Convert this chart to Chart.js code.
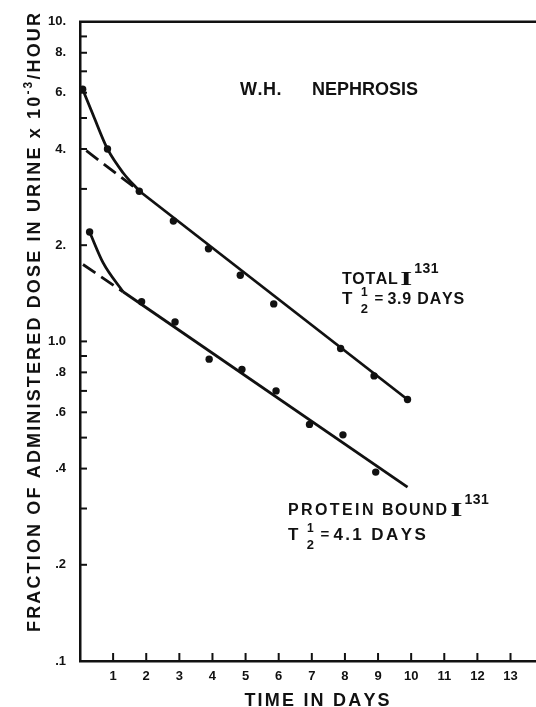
<!DOCTYPE html>
<html>
<head>
<meta charset="utf-8">
<script src="https://cdn.jsdelivr.net/npm/chart.js@4.4.1/dist/chart.umd.min.js"></script>
<style>
  html, body { margin: 0; padding: 0; background: #fff; overflow: hidden; }
  #wrap { position: relative; width: 536px; height: 707px; overflow: hidden; }
</style>
</head>
<body>
<div id="wrap"><canvas id="chart" width="541" height="707"></canvas></div>
<script>
// measured points, days after dose
const totalDays = [0.08, 0.83, 1.79, 2.82, 3.88, 4.84, 5.85, 7.87, 8.88, 9.89];
const totalValues = [6.15, 4.0, 2.95, 2.38, 1.95, 1.61, 1.31, 0.95, 0.78, 0.658];
const proteinDays = [0.29, 1.86, 2.87, 3.9, 4.89, 5.92, 6.93, 7.94, 8.93];
const proteinValues = [2.2, 1.33, 1.15, 0.88, 0.817, 0.70, 0.55, 0.51, 0.39];

// hand drawn early curves
const totalCurveDays = [0.08, 0.4, 0.83, 1.3, 1.8];
const totalCurveValues = [6.15, 5.1, 4.0, 3.37, 2.95];
const proteinCurveDays = [0.29, 0.7, 1.3];
const proteinCurveValues = [2.2, 1.76, 1.43];

// straight fits, first segment is the dashed back-extrapolation
const totalFitDays = [0.19, 1.8, 9.89];
const totalFitValues = [3.95, 2.95, 0.658];
const proteinFitDays = [0.09, 1.3, 9.89];
const proteinFitValues = [1.74, 1.43, 0.35];

const xTicks = [1, 2, 3, 4, 5, 6, 7, 8, 9, 10, 11, 12, 13];
const xTickLabels = ['1', '2', '3', '4', '5', '6', '7', '8', '9', '10', '11', '12', '13'];
const yTicks = [0.1, 0.2, 0.3, 0.4, 0.5, 0.6, 0.7, 0.8, 0.9, 1, 2, 3, 4, 5, 6, 7, 8, 9, 10];
const yTickLabels = ['.1', '.2', '', '.4', '', '.6', '', '.8', '', '1.0', '2.', '', '4.', '', '6.', '', '8.', '', '10.'];

const ink = '#111';
const sans = '"Liberation Sans", Arial, sans-serif';
const serif = '"Liberation Serif", serif';

const pts = (xs, ys) => xs.map((d, i) => ({ x: d, y: ys[i] }));

function spaced(ctx, text, x, y, spacing) {
  for (const ch of text) {
    ctx.fillText(ch, x, y);
    x += ctx.measureText(ch).width + spacing;
  }
  return x;
}

function naturalWidth(ctx, text) {
  let w = 0;
  for (const ch of text) w += ctx.measureText(ch).width;
  return w;
}

// T 1/2 = n DAYS
function halfLife(ctx, x, y, rest, size, spacing) {
  ctx.font = `bold 17px ${sans}`;
  ctx.fillText('T', x, y);
  const fx = x + ctx.measureText('T').width + 12;
  ctx.textAlign = 'center';
  ctx.font = `bold 12px ${sans}`;
  ctx.fillText('1', fx, y - 8);
  ctx.font = `bold 13px ${sans}`;
  ctx.fillText('2', fx, y + 9);
  ctx.textAlign = 'left';
  ctx.font = `bold 15px ${sans}`;
  ctx.fillText('=', fx + 10, y - 1);
  ctx.font = `bold ${size}px ${sans}`;
  spaced(ctx, rest, fx + 23, y, spacing);
}

// roman I with wide serifs, then superscript 131
function isotope(ctx, x, y) {
  ctx.save();
  ctx.translate(x, y + 1);
  ctx.scale(1.7, 1);
  ctx.font = `bold 18px ${serif}`;
  ctx.fillText('I', 0, 0);
  const w = ctx.measureText('I').width * 1.7;
  ctx.restore();
  ctx.font = `bold 14px ${sans}`;
  spaced(ctx, '131', x + w + 2, y - 11, 0.5);
}

const decorations = {
  id: 'decorations',
  afterDraw(chart) {
    const { ctx, chartArea: a, scales: { x, y } } = chart;
    ctx.save();
    ctx.strokeStyle = ink;
    ctx.fillStyle = ink;

    // top frame line
    ctx.lineWidth = 2.5;
    ctx.beginPath();
    ctx.moveTo(a.left - 1, a.top);
    ctx.lineTo(a.right, a.top);
    ctx.stroke();

    // tick marks point inwards
    ctx.lineWidth = 2;
    yTicks.forEach(v => {
      if (v === 10 || v === 0.1) return;
      const py = y.getPixelForValue(v);
      ctx.beginPath();
      ctx.moveTo(a.left, py);
      ctx.lineTo(a.left + 7, py);
      ctx.stroke();
    });
    xTicks.forEach(v => {
      const px = x.getPixelForValue(v);
      ctx.beginPath();
      ctx.moveTo(px, a.bottom);
      ctx.lineTo(px, a.bottom - 8);
      ctx.stroke();
    });

    ctx.textBaseline = 'alphabetic';
    ctx.textAlign = 'left';

    // title
    ctx.font = `bold 18px ${sans}`;
    spaced(ctx, 'W.H.', 240, 95, 0.5);
    spaced(ctx, 'NEPHROSIS', 312, 95, 0);

    // total I131
    ctx.font = `bold 16px ${sans}`;
    let nx = spaced(ctx, 'TOTAL', 342, 284, 0.6);
    isotope(ctx, nx + 2, 284);
    halfLife(ctx, 342, 304, '3.9 DAYS', 16, 0.8);

    // protein bound I131
    ctx.font = `bold 16px ${sans}`;
    nx = spaced(ctx, 'PROTEIN', 288, 515, 2.4);
    nx = spaced(ctx, 'BOUND', nx + 6, 515, 1.6);
    isotope(ctx, nx + 2, 515);
    halfLife(ctx, 288, 540, '4.1 DAYS', 17, 2.4);

    // x axis title
    ctx.font = `bold 18px ${sans}`;
    const xt = 'TIME IN DAYS';
    const xw = naturalWidth(ctx, xt) + 2.2 * (xt.length - 1);
    spaced(ctx, xt, 317 - xw / 2, 706, 2.2);

    // y axis title, rotated, with superscript -3
    const main1 = 'FRACTION OF ADMINISTERED DOSE IN URINE x 10';
    const sup = '-3';
    const main2 = '/HOUR';
    ctx.font = `bold 18px ${sans}`;
    const n1 = naturalWidth(ctx, main1) + naturalWidth(ctx, main2);
    ctx.font = `bold 12px ${sans}`;
    const n2 = naturalWidth(ctx, sup);
    const chars = main1.length + sup.length + main2.length - 1;
    const gap = (619 - n1 - n2) / chars;
    ctx.translate(40, 632);
    ctx.rotate(-Math.PI / 2);
    ctx.font = `bold 18px ${sans}`;
    let tx = spaced(ctx, main1, 0, 0, gap);
    ctx.font = `bold 12px ${sans}`;
    tx = spaced(ctx, sup, tx, -8, gap);
    ctx.font = `bold 18px ${sans}`;
    spaced(ctx, main2, tx, 0, gap);
    ctx.restore();
  }
};

const lineStyle = {
  showLine: true,
  borderColor: ink,
  borderWidth: 2.8,
  pointRadius: 0,
  fill: false
};
const dotStyle = {
  showLine: false,
  pointRadius: 3.7,
  pointBackgroundColor: ink,
  pointBorderColor: ink,
  pointBorderWidth: 0
};
const dashFirst = {
  borderDash: c => (c.p0DataIndex === 0 ? [15, 7] : undefined)
};

new Chart(document.getElementById('chart'), {
  type: 'scatter',
  data: {
    datasets: [
      { ...lineStyle, data: pts(totalCurveDays, totalCurveValues), cubicInterpolationMode: 'monotone' },
      { ...lineStyle, data: pts(totalFitDays, totalFitValues), segment: dashFirst },
      { ...lineStyle, data: pts(proteinCurveDays, proteinCurveValues), cubicInterpolationMode: 'monotone' },
      { ...lineStyle, data: pts(proteinFitDays, proteinFitValues), segment: dashFirst },
      { ...dotStyle, data: pts(totalDays, totalValues) },
      { ...dotStyle, data: pts(proteinDays, proteinValues) }
    ]
  },
  options: {
    responsive: false,
    animation: false,
    events: [],
    layout: { padding: { top: 18, right: 0, bottom: 0, left: 0 } },
    plugins: { legend: { display: false }, tooltip: { enabled: false } },
    scales: {
      x: {
        type: 'linear',
        min: 0,
        max: 13.8,
        afterBuildTicks: s => { s.ticks = xTicks.map(v => ({ value: v })); },
        afterFit: s => { s.height = 46; },
        grid: { display: false, drawTicks: false },
        border: { display: true, color: ink, width: 2.5 },
        ticks: {
          autoSkip: false,
          maxRotation: 0,
          padding: 8,
          color: ink,
          font: { family: sans, size: 13, weight: 'bold' },
          callback: (v, i) => xTickLabels[i]
        }
      },
      y: {
        type: 'logarithmic',
        min: 0.1,
        max: 10,
        afterBuildTicks: s => { s.ticks = yTicks.map(v => ({ value: v })); },
        afterFit: s => { s.width = 80; },
        grid: { display: false, drawTicks: false },
        border: { display: true, color: ink, width: 2.5 },
        ticks: {
          autoSkip: false,
          padding: 14,
          color: ink,
          font: { family: sans, size: 13, weight: 'bold' },
          callback: (v, i) => yTickLabels[i]
        }
      }
    }
  },
  plugins: [decorations]
});
</script>
</body>
</html>
